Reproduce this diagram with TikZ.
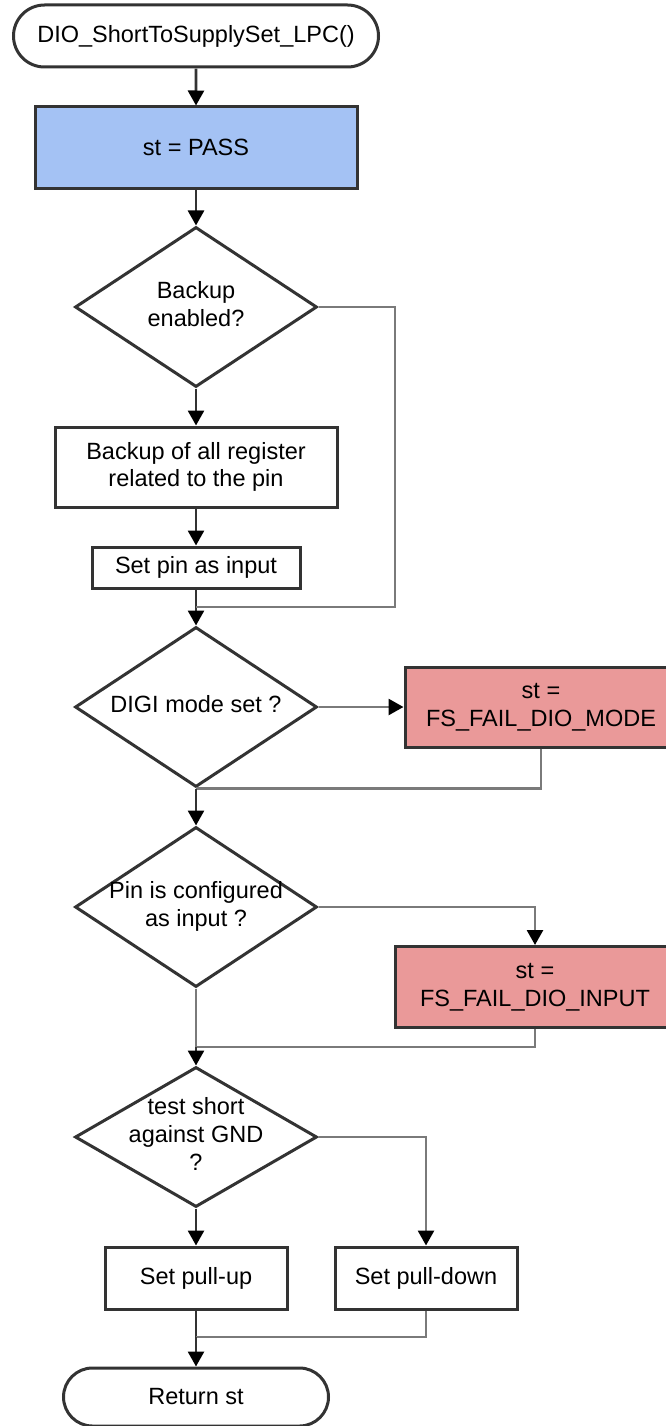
\documentclass[tikz,border=0pt]{standalone}
\usepackage{fontspec}
\setmainfont{Liberation Sans}
\usetikzlibrary{shapes.geometric,shapes.misc,arrows.meta}
\definecolor{bord}{HTML}{333333}
\definecolor{sidegray}{HTML}{7A7A7A}
\definecolor{passblue}{HTML}{A4C2F4}
\definecolor{failred}{HTML}{EA9999}
\newcommand\dtext[1]{\makebox[0pt]{$\vcenter{\hbox{\begin{tabular}{@{}c@{}}#1\end{tabular}}}$}}
\begin{document}
\begin{tikzpicture}[x=1pt,y=-1pt,
  box/.style={draw=bord, line width=3pt, inner sep=0pt, align=center, font=\fontsize{23.5}{27.7}\selectfont},
  term/.style={box, rounded rectangle},
  proc/.style={box, rectangle},
  dec/.style={box, diamond, minimum width=242pt, minimum height=160pt},
  mainln/.style={draw=bord, line width=2.7pt},
  sideln/.style={draw=sidegray, line width=2.7pt},
  tip/.style={-{Triangle[length=15pt,width=16pt,color=black]}}
]
\useasboundingbox (0,0) rectangle (666,1426);
% nodes
\node[term, minimum width=365pt, minimum height=62pt] (start) at (196,36) {DIO\_ShortToSupplySet\_LPC()};
\node[proc, fill=passblue, minimum width=322pt, minimum height=81pt] (pass) at (196,147.5) {st = PASS};
\node[dec] (d1) at (196,307) {\dtext{Backup\\enabled?}};
\node[proc, minimum width=282pt, minimum height=80pt] (backup) at (196,467) {Backup of all register\\related to the pin};
\node[proc, minimum width=208pt, minimum height=41pt] (setin) at (196,567.5) {Set pin as input};
\node[dec] (d2) at (196,707) {\dtext{DIGI mode set ?}};
\node[proc, fill=failred, minimum width=272pt, minimum height=80pt] (mode) at (541,707) {st =\\FS\_FAIL\_DIO\_MODE};
\node[dec] (d3) at (196,907) {\dtext{Pin is configured\\as input ?}};
\node[proc, fill=failred, minimum width=280pt, minimum height=81pt] (input) at (535,987) {st =\\FS\_FAIL\_DIO\_INPUT};
\node[dec, minimum height=140pt] (d4) at (196,1137) {\dtext{test short\\against GND\\?}};
\node[proc, minimum width=182pt, minimum height=62pt] (pullup) at (196,1278) {Set pull-up};
\node[proc, minimum width=182pt, minimum height=62pt] (pulldown) at (426,1278) {Set pull-down};
\node[term, minimum width=265pt, minimum height=58pt] (ret) at (196,1397) {Return st};
% junctions
\coordinate (j1) at (196,607);
\coordinate (r1) at (395,607);
\coordinate (j3) at (196,1047);
\coordinate (j4) at (196,1337);
% connectors
\draw[mainln,tip] (start) -- (pass);
\draw[mainln,tip] (pass) -- (d1);
\draw[mainln,tip] (d1) -- (backup);
\draw[mainln,tip] (backup) -- (setin);
\draw[mainln] (setin.south) -- (j1);
\draw[mainln,tip] (j1) -- (d2.north);
\draw[sideln] (d1.east) -| (r1) -- (j1);
\draw[sideln,tip] (d2.east) -- (mode.west);
\draw[sideln] (mode.south) |- (d2.south);
\draw[mainln,tip] (d2.south) -- (d3.north);
\draw[sideln,tip] (d3.east) -| (input.north);
\draw[sideln] (d3.south) -- (j3);
\draw[sideln] (input.south) |- (j3);
\draw[mainln,tip] (j3) -- (d4.north);
\draw[mainln,tip] (d4.south) -- (pullup.north);
\draw[sideln,tip] (d4.east) -| (pulldown.north);
\draw[mainln] (pullup.south) -- (j4);
\draw[sideln] (pulldown.south) |- (j4);
\draw[mainln,tip] (j4) -- (ret.north);
\end{tikzpicture}
\end{document}
